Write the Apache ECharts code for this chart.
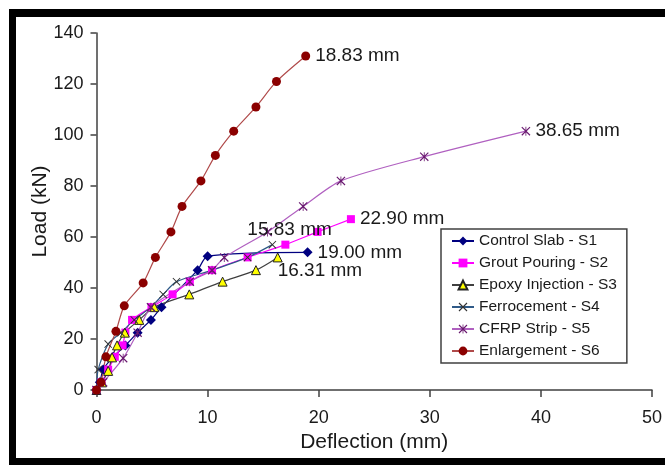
<!DOCTYPE html>
<html>
<head>
<meta charset="utf-8">
<script src="https://cdn.jsdelivr.net/npm/echarts@6/dist/echarts.min.js"></script>
<style>
  html, body { margin: 0; padding: 0; background: #fff; }
  #chart { width: 665px; height: 465px; }
</style>
</head>
<body>
<div id="chart"></div>
<script>
// Load–deflection results for the six slab specimens
const seriesNames = [
  'Control Slab - S1',
  'Grout Pouring - S2',
  'Epoxy Injection - S3',
  'Ferrocement - S4',
  'CFRP Strip - S5',
  'Enlargement - S6'
];

const s1Defl = [0, 0.3, 0.6, 1.5, 2.6, 3.7, 4.9, 5.85, 9.1, 10.0, 19.00];
const s1Load = [0, 3, 8, 13, 17.5, 22.5, 27.5, 32.5, 47, 52.5, 54];

const s2Defl = [0, 0.45, 1.05, 1.65, 2.35, 2.6, 3.2, 4.95, 6.85, 8.4, 10.4, 13.6, 17.0, 19.9, 22.90];
const s2Load = [0, 3, 8, 13, 17.5, 22.5, 27.5, 32.5, 37.5, 42.5, 47, 52, 57, 62, 67];

const s3Defl = [0, 0.5, 1.05, 1.4, 1.85, 2.55, 3.85, 5.2, 8.35, 11.35, 14.35, 16.31];
const s3Load = [0, 3, 7.5, 12.8, 17.5, 22.5, 27.5, 32.5, 37.5, 42.5, 47, 52];

const s4Defl = [0, 0.15, 1.05, 2.2, 3.4, 4.9, 6.0, 7.2, 10.4, 13.6, 15.83];
const s4Load = [0, 8, 18, 22.5, 27.5, 32.5, 37.5, 42.5, 47, 52, 57];

const s5Defl = [0, 0.6, 2.4, 3.7, 4.9, 8.4, 10.4, 11.5, 15.4, 18.6, 22.0, 29.5, 38.65];
const s5Load = [0, 3, 12.5, 22.5, 32.5, 42.5, 47, 52, 62, 72, 82, 91.5, 101.5];

const s6Defl = [0, 0.4, 0.85, 1.75, 2.5, 4.2, 5.3, 6.7, 7.7, 9.4, 10.7, 12.35, 14.35, 16.2, 18.83];
const s6Load = [0, 3, 13, 23, 33, 42, 52, 62, 72, 82, 92, 101.5, 111, 121, 131];

const xTicks = [0, 10, 20, 30, 40, 50];
const yTicks = [0, 20, 40, 60, 80, 100, 120, 140];

const FONT = '"Liberation Sans", Arial, sans-serif';

// Marker shapes: a thin "x" and an asterisk (x with a vertical stroke)
const crossPath = 'path://M0,0.9L0.9,0L10,9.1L9.1,10Z M9.1,0L10,0.9L0.9,10L0,9.1Z';
const starPath = 'path://M0,0.9L0.9,0L10,9.1L9.1,10Z M9.1,0L10,0.9L0.9,10L0,9.1Z M4.55,0L5.45,0L5.45,10L4.55,10Z';

function pairs(xs, ys) {
  return xs.map((x, i) => [x, ys[i]]);
}

// label the final reading of a curve with its deflection
function endLabel(offset) {
  return {
    show: true,
    position: 'right',
    distance: 5,
    offset: offset || [0, 0],
    fontFamily: FONT,
    fontSize: 19,
    color: '#1a1a1a',
    formatter: p => p.value[0].toFixed(2) + ' mm'
  };
}

function buildSeries(name, xs, ys, style, labelOffset) {
  const data = pairs(xs, ys).map((v, i) => {
    if (i === xs.length - 1) {
      return { value: v, label: endLabel(labelOffset) };
    }
    return { value: v };
  });
  return {
    name: name,
    type: 'line',
    smooth: 0.25,
    data: data,
    symbol: style.symbol,
    symbolSize: style.size,
    showAllSymbol: true,
    lineStyle: { color: style.line, width: 1.2 },
    itemStyle: {
      color: style.fill,
      borderColor: style.border || style.fill,
      borderWidth: style.borderWidth || 0
    },
    label: { show: false },
    emphasis: { disabled: true },
    animation: false
  };
}

const series = [
  buildSeries(seriesNames[0], s1Defl, s1Load,
    { symbol: 'diamond', size: 10, line: '#000080', fill: '#000080' }),
  buildSeries(seriesNames[1], s2Defl, s2Load,
    { symbol: 'rect', size: 8, line: '#ff00ff', fill: '#ff00ff' }),
  buildSeries(seriesNames[2], s3Defl, s3Load,
    { symbol: 'triangle', size: 9, line: '#404040', fill: '#ffff00', border: '#222', borderWidth: 1 },
    [-10, 13]),
  buildSeries(seriesNames[3], s4Defl, s4Load,
    { symbol: crossPath, size: 8, line: '#2f5a88', fill: '#333333' },
    [-34, -15]),
  buildSeries(seriesNames[4], s5Defl, s5Load,
    { symbol: starPath, size: 9, line: '#b060c0', fill: '#6a1a70' }),
  buildSeries(seriesNames[5], s6Defl, s6Load,
    { symbol: 'circle', size: 9, line: '#b04a4a', fill: '#8b0000' })
];

const chart = echarts.init(document.getElementById('chart'), null, { renderer: 'canvas' });

chart.setOption({
  backgroundColor: '#ffffff',
  animation: false,
  textStyle: { fontFamily: FONT },
  grid: { left: 96.5, right: 13, top: 33, bottom: 75, containLabel: false },
  xAxis: {
    type: 'value',
    min: xTicks[0],
    max: xTicks[xTicks.length - 1],
    interval: xTicks[1] - xTicks[0],
    name: 'Deflection (mm)',
    nameLocation: 'middle',
    nameGap: 42,
    nameMoveOverlap: false,
    nameTextStyle: { fontFamily: FONT, fontSize: 21, color: '#1a1a1a' },
    axisLine: { show: true, lineStyle: { color: '#404040', width: 1.5 } },
    axisTick: { show: true, inside: false, length: 7, lineStyle: { color: '#404040', width: 1.5 } },
    axisLabel: { fontFamily: FONT, fontSize: 18, color: '#1a1a1a', margin: 19 },
    splitLine: { show: false }
  },
  yAxis: {
    type: 'value',
    min: yTicks[0],
    max: yTicks[yTicks.length - 1],
    interval: yTicks[1] - yTicks[0],
    name: 'Load (kN)',
    nameLocation: 'middle',
    nameGap: 46,
    nameMoveOverlap: false,
    nameTextStyle: { fontFamily: FONT, fontSize: 21, color: '#1a1a1a' },
    axisLine: { show: true, lineStyle: { color: '#404040', width: 1.5 } },
    axisTick: { show: true, inside: false, length: 6, lineStyle: { color: '#404040', width: 1.5 } },
    axisLabel: { fontFamily: FONT, fontSize: 18, color: '#1a1a1a', margin: 13 },
    splitLine: { show: false }
  },
  legend: {
    data: seriesNames,
    orient: 'vertical',
    left: 441,
    top: 229,
    width: 185,
    padding: [4, 10, 4, 10],
    itemGap: 6,
    itemWidth: 22,
    itemHeight: 11,
    backgroundColor: '#ffffff',
    borderColor: '#404040',
    borderWidth: 1.5,
    borderRadius: 0,
    textStyle: { fontFamily: FONT, fontSize: 15.5, lineHeight: 16, color: '#1a1a1a' },
    selectedMode: false
  },
  graphic: [
    // dark frame around the figure
    { type: 'rect', left: 9, top: 9, shape: { width: 656, height: 8 }, style: { fill: '#000' }, z: 100 },
    { type: 'rect', left: 9, top: 9, shape: { width: 7, height: 456 }, style: { fill: '#000' }, z: 100 },
    { type: 'rect', left: 9, top: 458, shape: { width: 656, height: 7 }, style: { fill: '#000' }, z: 100 }
  ],
  series: series
});
</script>
</body>
</html>
